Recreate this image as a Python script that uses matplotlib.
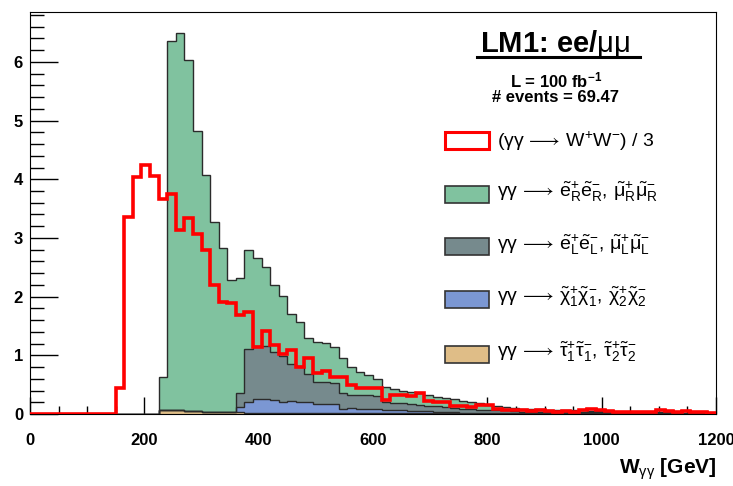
import numpy as np
import matplotlib
matplotlib.use("Agg")
import matplotlib.pyplot as plt
from matplotlib.patches import Rectangle
from matplotlib.ticker import MultipleLocator

plt.rcParams['font.family'] = ['Liberation Sans', 'DejaVu Sans']
plt.rcParams['mathtext.fontset'] = 'custom'
plt.rcParams['mathtext.rm'] = 'Liberation Sans'
plt.rcParams['mathtext.it'] = 'Liberation Sans:italic'
plt.rcParams['mathtext.bf'] = 'Liberation Sans:bold'

# 80 bins of 15 GeV from 0 to 1200
bin_edges = np.arange(0, 1201, 15)

# gamma gamma -> stau pairs (bottom of stack)
stau = [0]*15 + [0.06, 0.07, 0.06, 0.05, 0.05, 0.04, 0.04, 0.03, 0.03, 0.03,
                 0.02, 0.02, 0.02, 0.02, 0.02, 0.01, 0.01, 0.01, 0.01, 0.01,
                 0.01, 0.01, 0.01, 0.01, 0.01, 0.01, 0.01, 0.01, 0.01, 0.01,
                 0.01, 0.01, 0.01, 0.01, 0.01] + [0]*30

# gamma gamma -> chargino pairs
chargino = [0]*24 + [0.09, 0.19, 0.23, 0.23, 0.22, 0.19, 0.21, 0.20, 0.20, 0.16,
                     0.16, 0.16, 0.07, 0.09, 0.08, 0.07, 0.07, 0.06, 0.05, 0.05,
                     0.04, 0.04, 0.04, 0.03, 0.03, 0.03, 0.02, 0.02, 0.02, 0.02,
                     0.02, 0.02, 0.01, 0.01, 0.01, 0.01, 0.01, 0.01, 0.01, 0.01,
                     0.01, 0.01, 0.01, 0.01, 0.01, 0.01, 0.01, 0.0, 0.0, 0.0,
                     0.0, 0.0, 0.0, 0.0, 0.0, 0.0]

# gamma gamma -> left-handed selectron / smuon pairs
slep_L = [0]*24 + [0.23, 0.89, 0.91, 0.91, 0.82, 0.77, 0.64, 0.61, 0.48, 0.38,
                   0.38, 0.35, 0.27, 0.23, 0.24, 0.25, 0.23, 0.14, 0.13, 0.12,
                   0.12, 0.10, 0.09, 0.09, 0.08, 0.07, 0.07, 0.06, 0.05, 0.05,
                   0.04, 0.04, 0.04, 0.03, 0.03, 0.03, 0.02, 0.02, 0.02, 0.02,
                   0.02, 0.02, 0.02, 0.02, 0.01, 0.01, 0.01, 0.01, 0.01, 0.01,
                   0.01, 0.01, 0.01, 0.01, 0.01, 0.01]

# gamma gamma -> right-handed selectron / smuon pairs
slep_R = [0]*15 + [0.57, 6.28, 6.44, 5.98, 4.78, 4.04, 3.24, 2.80, 2.25, 1.97,
                   1.69, 1.50, 1.35, 1.13, 1.03, 0.84, 0.75, 0.61, 0.68, 0.66,
                   0.63, 0.60, 0.47, 0.39, 0.33, 0.29, 0.25, 0.23, 0.22, 0.21,
                   0.20, 0.18, 0.16, 0.15, 0.14, 0.13, 0.12, 0.11, 0.09, 0.07,
                   0.06, 0.05, 0.05, 0.04, 0.04, 0.03, 0.03, 0.03, 0.03, 0.03,
                   0.02, 0.02, 0.02, 0.02, 0.02, 0.02, 0.02, 0.02, 0.02, 0.02,
                   0.01, 0.01, 0.01, 0.01, 0.01]

# gamma gamma -> W+W-, scaled by 1/3
ww = [0]*10 + [0.44, 3.36, 4.04, 4.25, 4.06, 3.67, 3.75, 3.13, 3.34, 3.07,
               2.79, 2.19, 1.91, 1.89, 1.68, 1.74, 1.15, 1.42, 1.17, 1.03,
               1.09, 0.80, 0.95, 0.70, 0.73, 0.63, 0.63, 0.49, 0.44, 0.44,
               0.44, 0.24, 0.32, 0.32, 0.30, 0.36, 0.22, 0.21, 0.20, 0.14,
               0.13, 0.12, 0.16, 0.15, 0.08, 0.07, 0.07, 0.06, 0.05, 0.06,
               0.05, 0.04, 0.05, 0.04, 0.06, 0.08, 0.06, 0.05, 0.04, 0.03,
               0.03, 0.04, 0.03, 0.06, 0.05, 0.04, 0.05, 0.03, 0.03, 0.02]

GG = r'$\mathrm{\gamma\gamma}\,\longrightarrow\,'
labels = [
    GG + r'\mathrm{\tilde{e}^{+}_{R}\tilde{e}^{-}_{R},\,\tilde{\mu}^{+}_{R}\tilde{\mu}^{-}_{R}}$',
    GG + r'\mathrm{\tilde{e}^{+}_{L}\tilde{e}^{-}_{L},\,\tilde{\mu}^{+}_{L}\tilde{\mu}^{-}_{L}}$',
    GG + r'\mathrm{\tilde{\chi}^{+}_{1}\tilde{\chi}^{-}_{1},\,\tilde{\chi}^{+}_{2}\tilde{\chi}^{-}_{2}}$',
    GG + r'\mathrm{\tilde{\tau}^{+}_{1}\tilde{\tau}^{-}_{1},\,\tilde{\tau}^{+}_{2}\tilde{\tau}^{-}_{2}}$',
]
colors = ['#80c29f', '#768a8d', '#7b97d3', '#dfbd87']
ww_label = r'$\mathrm{(\gamma\gamma}\,\longrightarrow\,\mathrm{W^{+}W^{-})}$ / 3'

fig = plt.figure(figsize=(7.33, 4.86), dpi=100)
ax = fig.add_axes([30/733, 72/486, 686/733, 402/486])

# stack: stau at bottom, then chargino, slep_L, slep_R on top
components = [stau, chargino, slep_L, slep_R]
comp_colors = colors[::-1]
tops = np.cumsum(np.array(components, dtype=float), axis=0)
# ROOT draws the biggest (total) first, smaller ones on top of it
for i in range(len(components) - 1, -1, -1):
    ax.stairs(tops[i], bin_edges, baseline=0, fill=True,
              facecolor=comp_colors[i], edgecolor='none', zorder=2)
    ax.stairs(tops[i], bin_edges, baseline=0, color='#2b2b2b', lw=1.0, zorder=3)

ax.stairs(ww, bin_edges, baseline=0, color='red', lw=2.6, zorder=4)

ax.set_xlim(0, 1200)
ax.set_ylim(0, 6.85)
ax.xaxis.set_major_locator(MultipleLocator(200))
ax.xaxis.set_minor_locator(MultipleLocator(50))
ax.yaxis.set_major_locator(MultipleLocator(1))
ax.yaxis.set_minor_locator(MultipleLocator(0.2))
ax.tick_params(axis='x', which='major', direction='in', length=12, width=1, pad=14)
ax.tick_params(axis='x', which='minor', direction='in', length=6, width=1)
ax.tick_params(axis='y', which='major', direction='in', length=20, width=1, pad=5)
ax.tick_params(axis='y', which='minor', direction='in', length=10, width=1)
ax.tick_params(top=False, right=False)
for lab in ax.get_xticklabels() + ax.get_yticklabels():
    lab.set_fontweight('bold')
    lab.set_fontsize(12)
ax.set_xlabel(r'W$_{\mathrm{\gamma\gamma}}$ [GeV]', loc='right', fontsize=15,
              fontweight='bold', labelpad=6)

# header text
fig.text(555/733, 1 - 44/486, r'LM1: ee/$\mathrm{\mu\mu}$', fontsize=21,
         fontweight='bold', ha='center', va='center')
fig.add_artist(plt.Line2D([477/733, 640/733], [1 - 57/486, 1 - 57/486],
                          color='black', lw=2.2))
fig.text(556/733, 1 - 80/486, r'L = 100 fb$^{\mathbf{-1}}$', fontsize=12,
         fontweight='bold', ha='center', va='center')
fig.text(556/733, 1 - 98/486, '# events = 69.47', fontsize=12,
         fontweight='bold', ha='center', va='center')

# legend
box_x, box_w, box_h = 445/733, 44/733, 17/486
rows = [141, 194, 247, 299, 354]
fig.add_artist(Rectangle((box_x, 1 - rows[0]/486 - box_h/2), box_w, box_h,
                         transform=fig.transFigure, facecolor='white',
                         edgecolor='red', lw=2.2))
fig.text(497/733, 1 - rows[0]/486, ww_label, fontsize=14, va='center')
for r, lab, col in zip(rows[1:], labels, colors):
    fig.add_artist(Rectangle((box_x, 1 - r/486 - box_h/2), box_w, box_h,
                             transform=fig.transFigure, facecolor=col,
                             edgecolor='#333333', lw=1.2))
    fig.text(497/733, 1 - r/486 + 2/486, lab, fontsize=14, va='center')

fig.savefig('out.png', dpi=100)
